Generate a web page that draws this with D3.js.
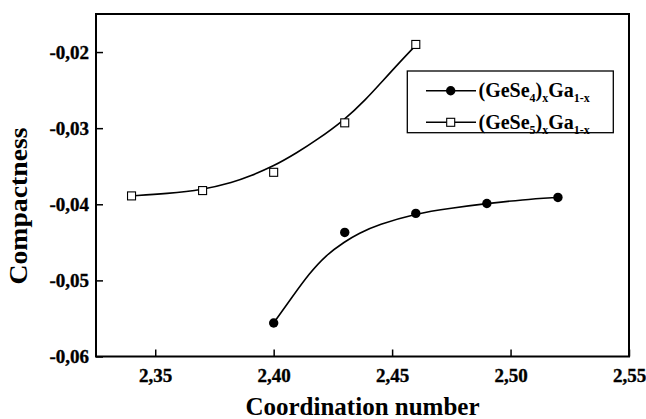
<!DOCTYPE html>
<html lang="en">
<head>
    <meta charset="utf-8" />
    <title>Compactness vs coordination number</title>
    <script src="https://cdn.jsdelivr.net/npm/d3@7"></script>
    <style>
        body { margin: 0; background: #fff; }
        svg text { font-family: "Liberation Serif", "Times New Roman", serif; font-weight: bold; fill: #000; }
        .axis line { stroke: #000; stroke-width: 1.5px; }
        .axis path { display: none; }
    </style>
</head>
<body>
    <script>
        // measured points
        var coordGeSe4 = [2.40, 2.43, 2.46, 2.49, 2.52];
        var compGeSe4 = [-0.0556, -0.0437, -0.0412, -0.0399, -0.0391];
        var coordGeSe5 = [2.34, 2.37, 2.40, 2.43, 2.46];
        var compGeSe5 = [-0.0389, -0.0382, -0.0358, -0.0293, -0.0190];

        // fitted curves
        var fitCoord4 = [2.40, 2.408, 2.415, 2.422, 2.43, 2.436, 2.444, 2.46, 2.475, 2.49, 2.505, 2.52];
        var fitComp4 = [-0.0556, -0.0521, -0.0491, -0.0467, -0.0449, -0.0438, -0.0427, -0.0412, -0.0405, -0.0399, -0.0394, -0.0391];
        var fitCoord5 = [2.34, 2.355, 2.37, 2.383, 2.39, 2.40, 2.41, 2.418, 2.43, 2.439, 2.446, 2.453, 2.46];
        var fitComp5 = [-0.0389, -0.0386, -0.0381, -0.0371, -0.0363, -0.0350, -0.0332, -0.0316, -0.0289, -0.0262, -0.0238, -0.0214, -0.0191];

        var xTicks = [2.35, 2.40, 2.45, 2.50, 2.55];
        var yTicks = [-0.06, -0.05, -0.04, -0.03, -0.02];

        var width = 646, height = 419;
        var plotL = 96, plotR = 629, plotT = 14, plotB = 356.5;
        var serif = "'Liberation Serif', 'Times New Roman', serif";

        var svg = d3.select("body").append("svg")
            .attr("width", width)
            .attr("height", height);

        var x = d3.scaleLinear().domain([2.325, 2.55]).range([plotL, plotR]);
        var y = d3.scaleLinear().domain([-0.06, -0.015]).range([plotB, plotT]);

        var fmt = function (d) { return d.toFixed(2).replace(".", ","); };

        // axes with inward ticks
        var gx = svg.append("g")
            .attr("class", "axis")
            .attr("transform", "translate(0," + plotB + ")")
            .call(d3.axisBottom(x).tickValues(xTicks).tickFormat(fmt).tickSizeInner(-7).tickSizeOuter(0).tickPadding(12));

        var gy = svg.append("g")
            .attr("class", "axis")
            .attr("transform", "translate(" + plotL + ",0)")
            .call(d3.axisLeft(y).tickValues(yTicks).tickFormat(fmt).tickSizeInner(-7).tickSizeOuter(0).tickPadding(7));

        [gx, gy].forEach(function (g) {
            g.attr("font-family", serif).attr("font-size", 19).attr("font-weight", "bold");
            g.selectAll("text")
                .style("font-family", serif)
                .style("font-size", "19px")
                .style("font-weight", "bold")
                .style("stroke", "#000")
                .style("stroke-width", "0.35px");
        });

        // frame
        svg.append("rect")
            .attr("x", plotL).attr("y", plotT)
            .attr("width", plotR - plotL).attr("height", plotB - plotT)
            .attr("fill", "none").attr("stroke", "#000").attr("stroke-width", 2);

        var line = d3.line()
            .x(function (d) { return x(d[0]); })
            .y(function (d) { return y(d[1]); })
            .curve(d3.curveBasis);

        svg.append("path")
            .datum(d3.zip(fitCoord5, fitComp5))
            .attr("d", line)
            .attr("fill", "none").attr("stroke", "#000").attr("stroke-width", 1.6);

        svg.append("path")
            .datum(d3.zip(fitCoord4, fitComp4))
            .attr("d", line)
            .attr("fill", "none").attr("stroke", "#000").attr("stroke-width", 1.6);

        svg.append("g").selectAll("rect")
            .data(d3.zip(coordGeSe5, compGeSe5))
            .enter().append("rect")
            .attr("x", function (d) { return x(d[0]) - 4; })
            .attr("y", function (d) { return y(d[1]) - 4; })
            .attr("width", 8).attr("height", 8)
            .attr("fill", "#fff").attr("stroke", "#000").attr("stroke-width", 1.1);

        svg.append("g").selectAll("circle")
            .data(d3.zip(coordGeSe4, compGeSe4))
            .enter().append("circle")
            .attr("cx", function (d) { return x(d[0]); })
            .attr("cy", function (d) { return y(d[1]); })
            .attr("r", 4.7)
            .attr("fill", "#000");

        // axis titles
        svg.append("text")
            .attr("x", (plotL + plotR) / 2).attr("y", 415)
            .attr("text-anchor", "middle")
            .style("font-size", "25px")
            .text("Coordination number");

        svg.append("text")
            .attr("transform", "translate(26.5,206) rotate(-90)")
            .attr("text-anchor", "middle")
            .attr("textLength", 157).attr("lengthAdjust", "spacingAndGlyphs")
            .style("font-size", "25px")
            .text("Compactness");

        // legend
        var legend = svg.append("g");
        legend.append("rect")
            .attr("x", 407.3).attr("y", 71)
            .attr("width", 206).attr("height", 61.7)
            .attr("fill", "#fff").attr("stroke", "#000").attr("stroke-width", 1.3);

        var rows = [{ n: "4", yy: 90.7, filled: true }, { n: "5", yy: 122.3, filled: false }];
        rows.forEach(function (r) {
            legend.append("line")
                .attr("x1", 426).attr("x2", 476)
                .attr("y1", r.yy).attr("y2", r.yy)
                .attr("stroke", "#000").attr("stroke-width", 1.6);
            if (r.filled) {
                legend.append("circle").attr("cx", 450.7).attr("cy", r.yy).attr("r", 4.7).attr("fill", "#000");
            } else {
                legend.append("rect").attr("x", 446.7).attr("y", r.yy - 4).attr("width", 8).attr("height", 8)
                    .attr("fill", "#fff").attr("stroke", "#000").attr("stroke-width", 1.1);
            }
            var t = legend.append("text")
                .attr("x", 478.5).attr("y", r.yy + 6.5)
                .style("font-size", "20px");
            t.append("tspan").text("(GeSe");
            t.append("tspan").attr("dy", 5).style("font-size", "12px").text(r.n);
            t.append("tspan").attr("dy", -5).text(")");
            t.append("tspan").attr("dy", 5).style("font-size", "12px").text("x");
            t.append("tspan").attr("dy", -5).text("Ga");
            t.append("tspan").attr("dy", 5).style("font-size", "12px").text("1-x");
        });
    </script>
</body>
</html>
